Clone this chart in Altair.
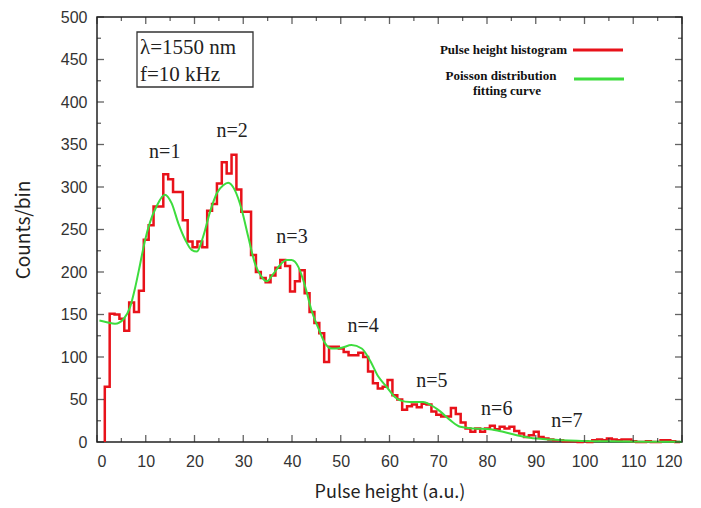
import altair as alt
import pandas as pd

# ---------------- data ----------------
bin_start = 1.6
bin_width = 1.0
counts = [65, 151, 150, 145, 131, 164, 153, 178, 238, 255,
          277, 277, 315, 309, 294, 294, 261, 236, 229, 236,
          229, 272, 280, 304, 329, 316, 338, 297, 271, 271,
          220, 200, 193, 188, 196, 205, 214, 207, 177, 189,
          202, 175, 153, 140, 128, 94, 112, 112, 110, 106,
          102, 102, 105, 100, 83, 69, 63, 65, 73, 55,
          50, 38, 42, 44, 41, 45, 44, 36, 32, 30,
          30, 40, 33, 23, 16, 12, 16, 12, 16, 19,
          15, 18, 16, 18, 13, 10, 6, 8, 12, 6,
          4, 3, 2, 2, 1, 1, 1, 0, 1, 0,
          2, 3, 2, 4, 3, 2, 3, 3, 1, 0,
          0, 1, 0, 0, 2, 2, 1, 0]

fit_x = [0.5, 2, 3.7, 5.5, 6.8, 7.8, 8.8, 9.8, 10.9, 12.2, 13.9, 15.3, 16.7, 18.1,
         19.4, 20.5, 21.8, 23.2, 24.6, 25.9, 26.9, 28.3, 29.7, 31.0, 32.4, 33.8,
         34.8, 36.2, 37.5, 38.9, 39.9, 41.3, 42.7, 44.0, 45.4, 46.8, 48.1, 50.2,
         52.2, 54.3, 56.0, 57.7, 59.4, 61.1, 62.2, 64.2, 66.9, 68.3, 70.4, 72.4,
         74.5, 77.2, 80.6, 83.3, 86.1, 88.8, 92.9, 98.4, 105, 112, 120]
fit_y = [143, 141, 139, 145, 159, 181, 208, 236, 259, 277, 291, 281, 257, 238,
         226, 224, 242, 271, 293, 302, 305, 296, 273, 242, 210, 194,
         189, 198, 208, 214, 214, 206, 183, 155, 134, 116, 110, 111,
         114, 110, 96, 77, 65, 53, 49, 47, 47, 44, 36, 26,
         18, 16, 15, 12, 8, 5, 3, 1.5, 0.8, 0.4, 0.2]

peak_labels = ["n=1", "n=2", "n=3", "n=4", "n=5", "n=6", "n=7"]
peak_x = [13.9, 27.7, 40.0, 54.6, 68.7, 82.0, 96.4]
peak_y = [341, 366, 241, 136, 72, 39, 25]

x_major = list(range(0, 121, 10))
x_minor = list(range(5, 121, 10))
y_major = list(range(0, 501, 50))
y_minor = list(range(25, 501, 50))

# ---------------- tables ----------------
hx = [bin_start] + [bin_start + i * bin_width for i in range(len(counts))] + [bin_start + len(counts) * bin_width]
hy = [0] + counts + [counts[-1]]
hist = pd.DataFrame({"x": hx, "y": hy, "o": list(range(len(hx)))})
fit = pd.DataFrame({"x": fit_x, "y": fit_y})
labels = pd.DataFrame({"x": peak_x, "y": peak_y, "t": peak_labels})

W, H = 585, 425
RED = "#e8121a"
GREEN = "#3ddc3d"

xs = alt.Scale(domain=[0, 120], nice=False, zero=False)
ys = alt.Scale(domain=[0, 500], nice=False)
xaxis = alt.Axis(values=x_major, ticks=False, domain=False, grid=False,
                 labelFont="Liberation Sans", labelFontSize=16, labelColor="#333",
                 labelPadding=11, title="Pulse height (a.u.)",
                 titleFont="Noto Sans CJK JP", titleFontSize=18, titleFontWeight="normal",
                 titleColor="#222", titlePadding=14)
yaxis = alt.Axis(values=y_major, ticks=False, domain=False, grid=False,
                 labelFont="Liberation Sans", labelFontSize=16, labelColor="#333",
                 labelPadding=10, title="Counts/bin",
                 titleFont="Noto Sans CJK JP", titleFontSize=19, titleFontWeight="normal",
                 titleColor="#222", titlePadding=27)
X = alt.X("x:Q", scale=xs, axis=xaxis)
Y = alt.Y("y:Q", scale=ys, axis=yaxis)

hist_layer = alt.Chart(hist).mark_line(interpolate="step-after", color=RED, strokeWidth=2.5).encode(
    x=X, y=Y, order=alt.Order("o:Q"))
fit_layer = alt.Chart(fit).mark_line(interpolate="monotone", color=GREEN, strokeWidth=2).encode(x=X, y=Y)
label_layer = alt.Chart(labels).mark_text(font="Liberation Serif", fontSize=20, color="#222").encode(
    x=X, y=Y, text="t:N")

def xticks(vals, length, top):
    df = pd.DataFrame({"x": vals})
    pos = length / 2 if top else H - length / 2
    return alt.Chart(df).mark_tick(color="#222", size=length, thickness=1.3).encode(x=X, y=alt.value(pos))

def yticks(vals, length, right):
    df = pd.DataFrame({"y": vals})
    pos = W - length / 2 if right else length / 2
    return alt.Chart(df).mark_tick(color="#222", size=length, thickness=1.3).encode(y=Y, x=alt.value(pos))

ticks = [xticks(x_major, 7, False), xticks(x_minor, 4, False),
         xticks(x_major, 7, True), xticks(x_minor, 4, True),
         yticks(y_major, 7, False), yticks(y_minor, 4, False),
         yticks(y_major, 7, True), yticks(y_minor, 4, True)]

one = pd.DataFrame({"a": [0]})
box = alt.Chart(one).mark_rect(fill="white", stroke="#333", strokeWidth=1.3).encode(
    x=alt.value(40), x2=alt.value(156), y=alt.value(15), y2=alt.value(70))
box_t1 = alt.Chart(one).mark_text(text="λ=1550 nm", font="Liberation Serif", fontSize=21,
                                  align="left", baseline="alphabetic", color="#222").encode(
    x=alt.value(43), y=alt.value(37))
box_t2 = alt.Chart(one).mark_text(text="f=10 kHz", font="Liberation Serif", fontSize=21,
                                  align="left", baseline="alphabetic", color="#222").encode(
    x=alt.value(43), y=alt.value(64))

leg_t1 = alt.Chart(one).mark_text(text="Pulse height histogram", font="Liberation Serif", fontSize=13,
                                  fontWeight="bold", align="right", baseline="alphabetic", color="#111").encode(
    x=alt.value(470), y=alt.value(37))
leg_r1 = alt.Chart(one).mark_rule(color=RED, strokeWidth=3).encode(
    x=alt.value(476), x2=alt.value(526), y=alt.value(33))
leg_t2 = alt.Chart(one).mark_text(text="Poisson distribution", font="Liberation Serif", fontSize=13,
                                  fontWeight="bold", align="center", baseline="alphabetic", color="#111").encode(
    x=alt.value(404), y=alt.value(63))
leg_t3 = alt.Chart(one).mark_text(text="fitting curve", font="Liberation Serif", fontSize=13,
                                  fontWeight="bold", align="center", baseline="alphabetic", color="#111").encode(
    x=alt.value(410), y=alt.value(78))
leg_r2 = alt.Chart(one).mark_rule(color=GREEN, strokeWidth=3).encode(
    x=alt.value(477), x2=alt.value(527), y=alt.value(62))

chart = alt.layer(
    hist_layer, fit_layer, label_layer, *ticks, box, box_t1, box_t2,
    leg_t1, leg_r1, leg_t2, leg_t3, leg_r2
).properties(
    width=W, height=H,
    autosize=alt.AutoSizeParams(type="none"),
    padding={"left": 89, "top": 9, "right": 10, "bottom": 60},
    background="white"
).configure_view(stroke="#222", strokeWidth=1.5)

chart.save("out.html", embed_options={"renderer": "svg", "actions": False})
